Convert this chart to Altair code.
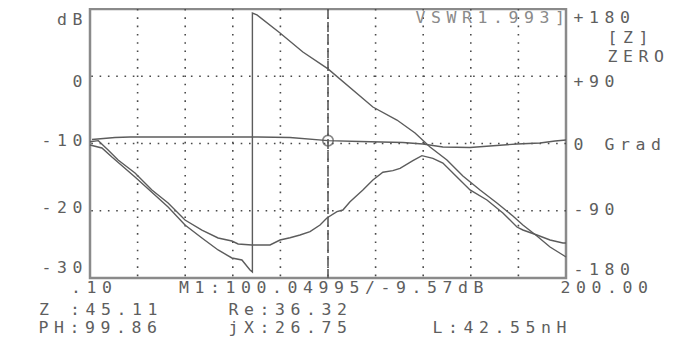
import altair as alt
import pandas as pd

# ---------------- data ----------------
# Return-loss trace (dB, left scale)
db_freq = [0.94, 10.6, 16.9, 46.3, 70.6, 84.1, 100.05, 113.5, 131.5, 139.9, 148.3, 159.7, 168.1, 179.4, 189.1, 195.4, 200.0]
db_vals = [-9.40, -9.10, -9.03, -9.03, -9.03, -9.11, -9.57, -9.70, -9.85, -10.07, -10.52, -10.59, -10.37, -10.07, -9.93, -9.63, -9.48]

# Impedance trace (drawn against the dB scale)
z_freq = [0.1, 3.6, 7.7, 11.9, 19.0, 26.1, 32.9, 40.0, 47.1, 53.9, 59.7, 62.3, 68.1, 75.7, 79.9, 84.1,
          88.3, 92.5, 96.7, 99.6, 103.8, 106.3, 109.3, 114.7, 118.9, 123.1, 127.3, 130.3, 135.7, 139.5,
          144.1, 148.3, 154.2, 159.7, 166.8, 173.5, 179.4, 181.9, 187.8, 193.3, 198.7, 200.0]
z_vals = [-9.73, -9.58, -10.97, -12.45, -14.39, -16.91, -18.85, -21.38, -22.87, -24.05, -24.50, -24.94, -25.09,
          -25.09, -24.35, -24.01, -23.61, -23.11, -22.12, -21.08, -20.14, -19.89, -18.65, -16.91, -15.43,
          -14.28, -14.04, -13.69, -12.56, -11.81, -12.20, -12.90, -14.98, -16.91, -18.40, -20.33, -22.42,
          -22.86, -23.61, -24.35, -24.80, -24.80]

# Phase trace (degrees, right scale) - wraps from -180 to +180 near 68 MHz
ph_freq = [0.1, 5.1, 9.3, 19.0, 32.9, 40.0, 47.1, 53.9, 59.7, 63.9, 67.3, 68.3, 68.3, 70.2, 79.9, 89.5,
           100.05, 118.9, 129.0, 136.6, 142.9, 150.0, 156.7, 163.9, 171.0, 177.7, 181.9, 187.8, 193.3, 198.7, 200.0]
ph_vals = [-2.0, -6.0, -18.1, -44.8, -85.0, -109.1, -126.5, -142.5, -153.2, -155.9, -169.3, -172.0, 174.6,
           172.0, 147.9, 122.5, 99.86, 48.8, 31.4, 14.1, -4.7, -22.1, -43.5, -62.2, -79.6, -97.0, -109.1,
           -123.8, -138.5, -149.2, -151.9]

# Marker
marker_freq = [100.04995]
marker_db = [-9.57]

# Grid (10 x-divisions over 0.10 .. 200.00, dB lines)
grid_freq = [20.09, 40.08, 60.07, 80.06, 100.05, 120.04, 140.03, 160.02, 180.01]
grid_db = [0, -10, -20]

# Texts on the display
texts = ["dB", "0", "-10", "-20", "-30",
         "+180", "[Z]", "ZERO", "+90", "0 Grad", "-90", "-180",
         "VSWR1.993]",
         ".10", "M1:100.04995/-9.57dB", "200.00",
         "Z :45.11", "Re:36.32",
         "PH:99.86", "jX:26.75", "L:42.55nH"]

# ---------------- layout (page pixels) ----------------
PLOT_X0, PLOT_Y0 = 90, 9
W, H = 476, 269
ADV = 15.5
# first-character centre x, centre y for each text above
text_pos = [(62, 20), (77.5, 81.5), (46.5, 141), (46.5, 207.5), (46.5, 267.5),
            (578.5, 18), (612.5, 37.5), (612.5, 56.5), (578.5, 81.5), (578.5, 145), (578.5, 209.5), (578.5, 270),
            (420.5, 18),
            (76, 287.5), (184, 287.5), (565.5, 287.5),
            (44, 309.5), (233.5, 309.5),
            (43.5, 328), (233.5, 328), (437.5, 328)]
text_col = ["#5e5e5e"] * len(texts)
text_col[12] = "#8a8a8a"

rows = []
for s, (x0, y0), c in zip(texts, text_pos, text_col):
    for k, ch in enumerate(s):
        if ch == " ":
            continue
        rows.append({"px": x0 + k * ADV - PLOT_X0, "py": y0 - PLOT_Y0, "ch": ch, "col": c})
text_df = pd.DataFrame(rows)

x_scale = alt.Scale(domain=[0.1, 200.0], nice=False, zero=False)
db_scale = alt.Scale(domain=[-30, 10], nice=False, zero=False)
ph_scale = alt.Scale(domain=[-180, 180], nice=False, zero=False)

TRACE = "#5c5c5c"

vgrid = alt.Chart(pd.DataFrame({"f": grid_freq})).mark_rule(
    color="#4a4a4a", strokeWidth=1.6, strokeDash=[1.6, 6.7]
).encode(x=alt.X("f:Q", scale=x_scale, axis=None))

hgrid = alt.Chart(pd.DataFrame({"d": grid_db})).mark_rule(
    color="#4a4a4a", strokeWidth=1.6, strokeDash=[1.6, 6.7]
).encode(y=alt.Y("d:Q", scale=db_scale, axis=None))

db_df = pd.DataFrame({"f": db_freq, "v": db_vals, "i": range(len(db_freq))})
db_line = alt.Chart(db_df).mark_line(color=TRACE, strokeWidth=1.4).encode(
    x=alt.X("f:Q", scale=x_scale, axis=None),
    y=alt.Y("v:Q", scale=db_scale, axis=None),
    order="i:Q")

z_df = pd.DataFrame({"f": z_freq, "v": z_vals, "i": range(len(z_freq))})
z_line = alt.Chart(z_df).mark_line(color=TRACE, strokeWidth=1.4).encode(
    x=alt.X("f:Q", scale=x_scale, axis=None),
    y=alt.Y("v:Q", scale=db_scale, axis=None),
    order="i:Q")

ph_df = pd.DataFrame({"f": ph_freq, "v": ph_vals, "i": range(len(ph_freq))})
ph_line = alt.Chart(ph_df).mark_line(color=TRACE, strokeWidth=1.4).encode(
    x=alt.X("f:Q", scale=x_scale, axis=None),
    y=alt.Y("v:Q", scale=ph_scale, axis=None),
    order="i:Q")

mk_df = pd.DataFrame({"f": marker_freq, "v": marker_db})
mk_rule = alt.Chart(mk_df).mark_rule(color="#5a5a5a", strokeWidth=1.6, strokeDash=[10, 3]).encode(
    x=alt.X("f:Q", scale=x_scale, axis=None))
mk_pt = alt.Chart(mk_df).mark_point(shape="circle", size=110, filled=False, color="#555", strokeWidth=1.6).encode(
    x=alt.X("f:Q", scale=x_scale, axis=None),
    y=alt.Y("v:Q", scale=db_scale, axis=None))

txt = alt.Chart(text_df).mark_text(
    font="DejaVu Sans Mono", fontSize=16.5, align="center", baseline="middle"
).encode(
    x=alt.X("px:Q", scale=None, axis=None),
    y=alt.Y("py:Q", scale=None, axis=None),
    text="ch:N",
    color=alt.Color("col:N", scale=None))

chart = alt.layer(vgrid, hgrid, db_line, z_line, ph_line, mk_rule, mk_pt, txt).resolve_scale(
    x="independent", y="independent"
).properties(
    width=W, height=H, autosize="none",
    padding={"left": 82, "top": 1, "right": 117, "bottom": 64},
    background="white"
).configure_view(stroke="#8a8a8a", strokeWidth=2.5)

chart.save("out.html", embed_options={"renderer": "svg", "actions": False})
